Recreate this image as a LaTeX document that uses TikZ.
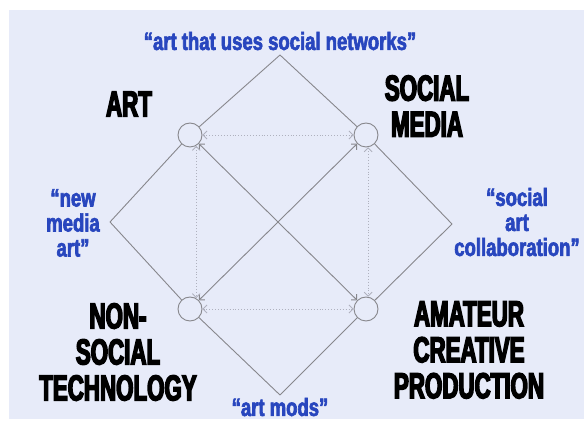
\documentclass[tikz,border=0pt]{standalone}
\usepackage{fontspec}
\usetikzlibrary{arrows.meta}
\newfontfamily\headfont[FakeStretch=0.62,FakeBold=4,UprightFont={* Bold}]{Liberation Sans}
\newfontfamily\quotefont[FakeStretch=0.74,FakeBold=2.5,UprightFont={* Bold}]{Liberation Sans}
\definecolor{bgcol}{RGB}{231,235,249}
\definecolor{quoteblue}{RGB}{40,70,190}
\definecolor{linkgray}{RGB}{135,135,140}
\definecolor{dotgray}{RGB}{175,177,190}
\begin{document}
\begin{tikzpicture}[x=1pt,y=-1pt,
  hub/.style={circle,draw=linkgray,line width=0.9pt,minimum size=24pt,inner sep=0pt},
  link/.style={draw=linkgray,line width=0.9pt},
  dotlink/.style={draw=dotgray,line width=0.9pt,dotted},
  tip/.style={{Straight Barb[length=4pt,width=8pt]}-{Straight Barb[length=4pt,width=8pt]}},
  head/.style={align=center,inner sep=0pt,font=\headfont\fontsize{36}{36}\selectfont},
  quote/.style={align=center,inner sep=0pt,text=quoteblue,font=\quotefont\fontsize{25}{25}\selectfont}]
\useasboundingbox (0,0) rectangle (584,427);
\fill[bgcol] (9,10) rectangle (584,419);

% the four concept hubs
\node[hub] (a) at (190,135) {};
\node[hub] (b) at (366,135) {};
\node[hub] (c) at (190,309) {};
\node[hub] (d) at (366,309) {};

% outer corners of the diamond
\coordinate (top) at (280,55);
\coordinate (left) at (110,222);
\coordinate (right) at (452,224);
\coordinate (bottom) at (280,395);

% outer diamond
\draw[link] (top) -- (a);
\draw[link] (top) -- (b);
\draw[link] (left) -- (a);
\draw[link] (left) -- (c);
\draw[link] (right) -- (b);
\draw[link] (right) -- (d);
\draw[link] (bottom) -- (c);
\draw[link] (bottom) -- (d);

% crossing diagonals
\draw[link,tip] (a) -- (d);
\draw[link,tip] (b) -- (c);

% dotted square between the hubs
\draw[dotlink,tip] (a.east) -- (b.west);
\draw[dotlink,tip] (c.east) -- (d.west);
\draw[dotlink,tip] (a.-60) -- (c.60);
\draw[dotlink,tip] (b.-80) -- (d.80);

% concept names
\node[head] (art) at (129,104) {ART};
\node[head] (sm) at (427,106) {SOCIAL\\MEDIA};
\node[head] (nst) at (118,352) {NON-\\SOCIAL\\TECHNOLOGY};
\node[head] (acp) at (469,350) {AMATEUR\\CREATIVE\\PRODUCTION};

% names of the crossings
\node[quote] (q1) at (280,41) {“art that uses social networks”};
\node[quote] (q2) at (73,223) {“new\\media\\art”};
\node[quote] (q3) at (517,222) {“social\\art\\collaboration”};
\node[quote] (q4) at (280,407) {“art mods”};
\end{tikzpicture}
\end{document}
